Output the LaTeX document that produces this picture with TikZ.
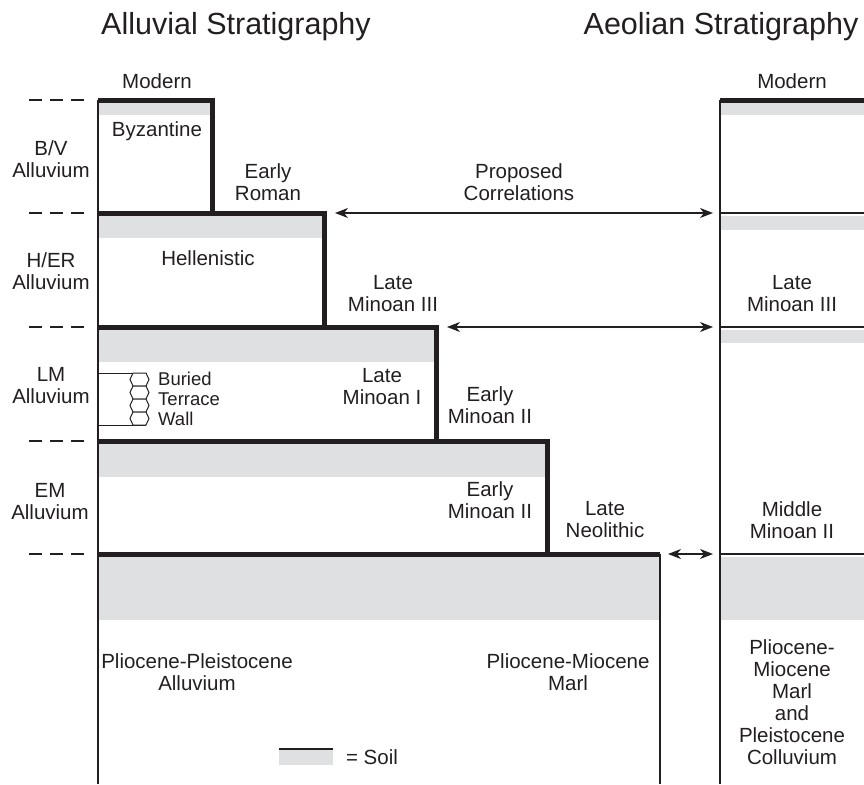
\documentclass[tikz,border=0pt]{standalone}
\usepackage{fontspec}
\setmainfont{Liberation Sans}
\usepackage{xcolor}
\usetikzlibrary{arrows.meta}
\definecolor{soilgray}{RGB}{223,224,226}
\definecolor{ink}{RGB}{35,31,32}

\begin{document}
\begin{tikzpicture}[x=1pt,y=-1pt,
  lbl/.style={align=center, inner sep=0pt, text=ink, font=\fontsize{20.5}{22}\selectfont},
  small/.style={align=left, inner sep=0pt, text=ink, font=\fontsize{18.5}{20}\selectfont},
  ttl/.style={inner sep=0pt, text=ink, font=\fontsize{30.5}{34}\selectfont},
  boundary/.style={draw=ink, line width=5pt, line join=miter},
  wire/.style={draw=ink, line width=1.3pt},
  soil/.style={fill=soilgray},
  corr/.style={wire, {Stealth[length=13pt,width=10pt,inset=4pt]}-{Stealth[length=13pt,width=10pt,inset=4pt]}}]
\useasboundingbox (0,0) rectangle (864,784);

% titles
\node[ttl, anchor=base] (alluvial) at (236,35) {Alluvial Stratigraphy};
\node[ttl, anchor=base] (aeolian) at (721,35) {Aeolian Stratigraphy};

% soil bands
\fill[soil] (98,103) rectangle (212,115);
\fill[soil] (98,216) rectangle (324,238);
\fill[soil] (98,330) rectangle (436,362);
\fill[soil] (98,444) rectangle (547,477);
\fill[soil] (98,557) rectangle (660,620);
\fill[soil] (720,103) rectangle (864,115);
\fill[soil] (720,216) rectangle (864,230);
\fill[soil] (720,330) rectangle (864,343);
\fill[soil] (720,557) rectangle (864,620);

% alluvial steps
\draw[wire] (98,100) -- (98,784);
\foreach \ya/\xa/\yb in {100/212/213, 213/324/327, 327/436/441, 441/547/554}
  \draw[boundary] (98,\ya) -- (\xa,\ya) -- (\xa,\yb);
\draw[boundary] (98,554) -- (660,554);
\draw[wire] (660,554) -- (660,784);

% aeolian column
\draw[wire] (720,100) -- (720,784);
\draw[boundary] (720,100) -- (864,100);
\foreach \y in {213,327,554}
  \draw[wire] (720,\y) -- (864,\y);

% unit limits
\foreach \y in {100,213,327,441,554}
  \draw[wire, dash pattern=on 13pt off 8pt] (29,\y) -- (84,\y);

% buried terrace wall
\draw[wire, line width=1pt] (98,373) -- (146,373);
\draw[wire, line width=1pt] (98,425) -- (146,425);
\foreach \i in {0,...,3}
  \draw[draw=ink, line width=1pt, fill=white]
    (133,373+13*\i) -- (146,373+13*\i) -- (149,379.5+13*\i) -- (146,386+13*\i)
    -- (133,386+13*\i) -- (130,379.5+13*\i) -- cycle;

% correlations
\coordinate (er) at (335,213);
\coordinate (er2) at (713,213);
\coordinate (lm) at (447,327);
\coordinate (lm2) at (713,327);
\coordinate (ln) at (668,554);
\coordinate (ln2) at (713,554);
\draw[corr] (er) -- (er2);
\draw[corr] (lm) -- (lm2);
\draw[corr] (ln) -- (ln2);

% labels
\node[lbl] (modern) at (157,81) {Modern};
\node[lbl] (modern2) at (792,81) {Modern};
\node[lbl] (byz) at (157,131) {Byzantine};
\node[lbl] (roman) at (268,182) {Early\\Roman};
\node[lbl] (prop) at (519,182) {Proposed\\Correlations};
\node[lbl] (hell) at (208,258) {Hellenistic};
\node[lbl] (lmiii) at (393,294) {Late\\Minoan III};
\node[lbl] (lmiii2) at (792,294) {Late\\Minoan III};
\node[lbl] (lmi) at (382,387) {Late\\Minoan I};
\node[lbl] (emii) at (490,405) {Early\\Minoan II};
\node[small, anchor=west] (wall) at (158,399) {Buried\\Terrace\\Wall};
\node[lbl] (emii2) at (490,500) {Early\\Minoan II};
\node[lbl] (neol) at (605,520) {Late\\Neolithic};
\node[lbl] (mmii) at (792,520) {Middle\\Minoan II};
\node[lbl] (ppa) at (197,672) {Pliocene-Pleistocene\\Alluvium};
\node[lbl] (pmm) at (568,672) {Pliocene-Miocene\\Marl};
\node[lbl] (pmc) at (792,702) {Pliocene-\\Miocene\\Marl\\and\\Pleistocene\\Colluvium};

\node[lbl] (bv) at (51,159) {B/V\\Alluvium};
\node[lbl] (her) at (51,271) {H/ER\\Alluvium};
\node[lbl] (lma) at (51,386) {LM\\Alluvium};
\node[lbl] (ema) at (50,502) {EM\\Alluvium};

% legend
\fill[soil] (279,749) rectangle (333,765);
\draw[wire] (279,749) -- (333,749);
\node[lbl] (soilkey) at (372,757) {= Soil};
\end{tikzpicture}
\end{document}
